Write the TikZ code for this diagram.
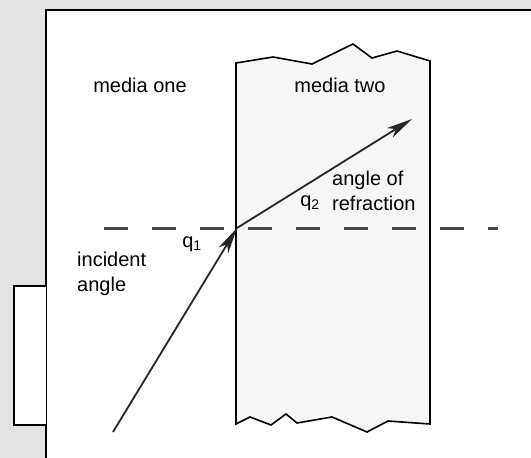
\documentclass[tikz,border=0pt]{standalone}
\usepackage{fontspec}
\setmainfont{Liberation Sans}
\usetikzlibrary{arrows.meta, positioning}

\begin{document}
\begin{tikzpicture}[
    x=1pt, y=-1pt,
    font=\fontsize{20}{25}\selectfont,
    % Shapes
    frame/.style={draw=black, line width=1.8pt},
    slab/.style={draw=black, line width=1.6pt, fill=gray!7, line join=miter},
    label/.style={inner sep=0pt, text=black},
    % Connectors
    ray/.style={line width=1.8pt, draw=black!85, -{Stealth[length=26pt, width=11pt, inset=7pt]}},
    normal_line/.style={line width=3pt, draw=gray!55!black, dash pattern=on 24pt off 24pt},
]
\useasboundingbox (0,0) rectangle (531,458);

% 1. Page background and frame
\fill[gray!22] (0,0) rectangle (531,458);
\fill[white] (46,10) rectangle (535,462);
\draw[frame] (46,462) -- (46,10) -- (535,10);
\filldraw[frame, fill=white] (46,286) -- (14,286) -- (14,425) -- (46,425);

% 2. Second medium (torn block)
\draw[slab] (236,63) -- (273,57) -- (312,64) -- (353,44) -- (372,58) -- (397,51) -- (430,61)
    -- (430,424) -- (388,421) -- (367,432) -- (332,417) -- (297,423) -- (286,414)
    -- (271,425) -- (250,417) -- (236,424) -- cycle;

% Boundary points
\coordinate (src) at (113,432);
\coordinate (hit) at (237,228);
\coordinate (dst) at (412,119);
\coordinate (nstart) at (104,228);
\coordinate (nend) at (498,228);

% Normal
\draw[normal_line] (nstart) -- (nend);

% Labels
\node[label] (mediaone) at (140,85) {media one};
\node[label] (mediatwo) at (340,85) {media two};
\node[label, anchor=west, align=left] (incident) at (77,274) {incident\\angle};
\node[label] (qone) at (192,244) {q\textsubscript{1}};
\node[label] (qtwo) at (310,203) {q\textsubscript{2}};
\node[label, anchor=west, align=left] (refraction) at (332,191) {angle of\\refraction};

% Rays
\draw[ray] (src) -- (hit);
\draw[ray] (hit) -- (dst);

\end{tikzpicture}
\end{document}
